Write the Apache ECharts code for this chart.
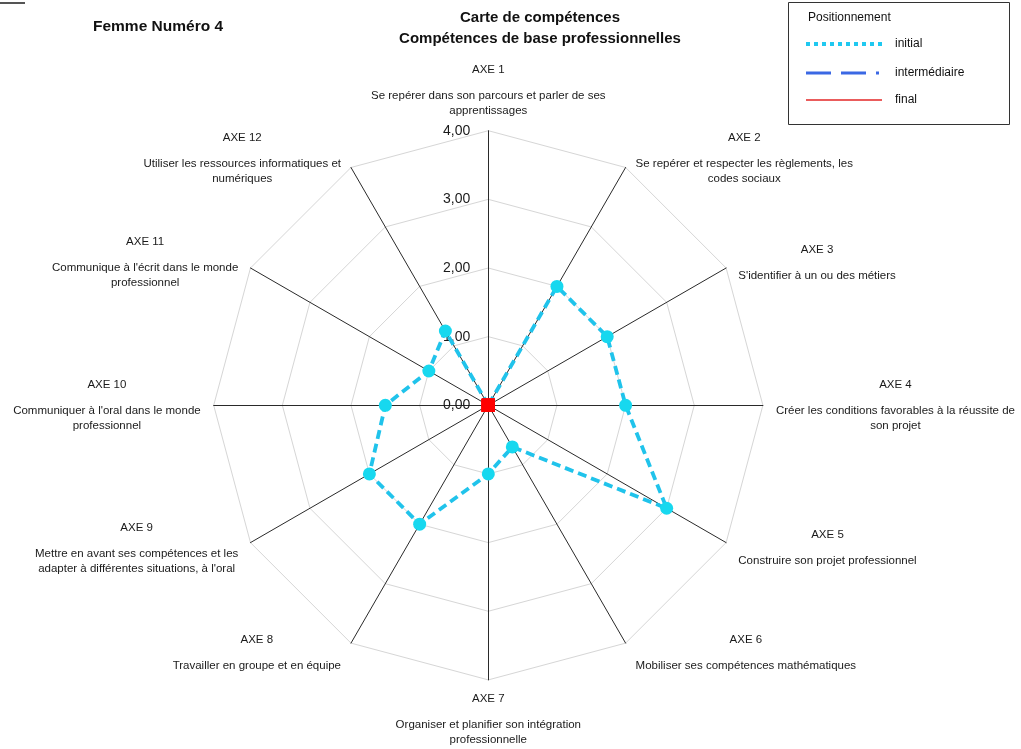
<!DOCTYPE html>
<html>
<head>
<meta charset="utf-8">
<script src="https://cdn.jsdelivr.net/npm/echarts@6/dist/echarts.min.js"></script>
<style>
html,body{margin:0;padding:0;background:#fff;}
#chart{width:1021px;height:749px;}
</style>
</head>
<body>
<div id="chart"></div>
<script>
// ---- data ----
const axes = ['AXE 1','AXE 2','AXE 3','AXE 4','AXE 5','AXE 6','AXE 7','AXE 8','AXE 9','AXE 10','AXE 11','AXE 12'];
const descriptions = [
  ['Se repérer dans son parcours et parler de ses','apprentissages'],
  ['Se repérer et respecter les règlements, les','codes sociaux'],
  ["S'identifier à un ou des métiers"],
  ['Créer les conditions favorables à la réussite de','son projet'],
  ['Construire son projet professionnel'],
  ['Mobiliser ses compétences mathématiques'],
  ['Organiser et planifier son intégration','professionnelle'],
  ['Travailler en groupe et en équipe'],
  ['Mettre en avant ses compétences et les',"adapter à différentes situations, à l'oral"],
  ["Communiquer à l'oral dans le monde",'professionnel'],
  ["Communique à l'écrit dans le monde",'professionnel'],
  ['Utiliser les ressources informatiques et','numériques']
];
const initialValues      = [0, 2, 2, 2, 3, 0.7, 1, 2, 2, 1.5, 1, 1.25];
const intermediateValues = [0, 0, 0, 0, 0, 0, 0, 0, 0, 0, 0, 0];
const finalValues        = [0, 0, 0, 0, 0, 0, 0, 0, 0, 0, 0, 0];
const tickLabels = ['0,00','1,00','2,00','3,00','4,00'];
const seriesNames = ['initial','intermédiaire','final'];
const legendTitle = 'Positionnement';
const titleLines = ['Carte de compétences','Compétences de base professionnelles'];
const subjectName = 'Femme Numéro 4';

// ---- layout ----
const cx = 488.3, cy = 405.3, R = 274.6, maxVal = 4;
const FONT = '"Liberation Sans", Arial, Helvetica, sans-serif';
const labelFontSize = 11.5;

// ECharts radar goes counter-clockwise; reorder so the chart reads clockwise
const n = axes.length;
const order = [0];
for (let i = n - 1; i >= 1; i--) order.push(i);
const reorder = arr => order.map(i => arr[i]);

const chart = echarts.init(document.getElementById('chart'), null, {renderer: 'canvas'});

// measure label widths
const mctx = document.createElement('canvas').getContext('2d');
mctx.font = labelFontSize + 'px ' + FONT;
function blockWidth(lines) {
  let w = 0;
  lines.forEach(l => { w = Math.max(w, mctx.measureText(l).width); });
  return w;
}

const graphics = [];
axes.forEach((ax, i) => {
  const th = i * 2 * Math.PI / n;
  const s = Math.sin(th), c = Math.cos(th);
  const ex = cx + R * s, ey = cy - R * c;
  const lines = descriptions[i];
  const txt = '{a|' + ax + '}\n{s| }\n' + lines.map(l => '{b|' + l + '}').join('\n');
  const rich = {
    a: {fontSize: labelFontSize, lineHeight: 15, fontFamily: FONT, fill: '#1a1a1a', align: 'center'},
    s: {fontSize: 4, lineHeight: 11},
    b: {fontSize: labelFontSize, lineHeight: 15, fontFamily: FONT, fill: '#1a1a1a', align: 'center'}
  };
  let x, y, va;
  if (Math.abs(s) < 0.01) {
    x = ex;
    if (c > 0) { y = ey - 12; va = 'bottom'; } else { y = ey + 11; va = 'top'; }
  } else {
    const w = blockWidth(lines.concat([ax]));
    const gap = 7 + 6 * Math.abs(s);
    x = ex + Math.sign(s) * (gap + w / 2);
    y = ey - 11 * c;
    va = 'middle';
  }
  graphics.push({
    type: 'text', x: x, y: y, silent: true,
    style: {text: txt, rich: rich, align: 'center', verticalAlign: va, fontFamily: FONT, fontSize: labelFontSize, fill: '#1a1a1a'}
  });
});

// titles
graphics.push({type: 'text', x: 540, y: 18, style: {text: titleLines[0], font: 'bold 15px ' + FONT, fill: '#111', align: 'center', verticalAlign: 'middle'}});
graphics.push({type: 'text', x: 540, y: 39, style: {text: titleLines[1], font: 'bold 15px ' + FONT, fill: '#111', align: 'center', verticalAlign: 'middle'}});
graphics.push({type: 'text', x: 93, y: 27, style: {text: subjectName, font: 'bold 15.5px ' + FONT, fill: '#111', align: 'left', verticalAlign: 'middle'}});
graphics.push({type: 'line', shape: {x1: 0, y1: 3, x2: 25, y2: 3}, style: {stroke: '#555', lineWidth: 2}});

// legend box
const legY = [44, 73, 100];
const legStyles = [
  {stroke: '#1fc8f0', lineWidth: 4, lineDash: [4, 4]},
  {stroke: '#3b68e4', lineWidth: 3, lineDash: [25, 10, 25, 10, 3, 10]},
  {stroke: '#e32626', lineWidth: 1.5}
];
graphics.push({type: 'rect', shape: {x: 788.5, y: 2.5, width: 221, height: 122}, style: {fill: '#fff', stroke: '#333', lineWidth: 1}});
graphics.push({type: 'text', x: 808, y: 18, style: {text: legendTitle, font: '12px ' + FONT, fill: '#111', align: 'left', verticalAlign: 'middle'}});
seriesNames.forEach((nm, k) => {
  graphics.push({type: 'line', shape: {x1: 806, y1: legY[k], x2: 882, y2: legY[k]}, style: legStyles[k]});
  graphics.push({type: 'text', x: 895, y: legY[k], style: {text: nm, font: '12px ' + FONT, fill: '#111', align: 'left', verticalAlign: 'middle'}});
});

const option = {
  animation: false,
  backgroundColor: '#fff',
  textStyle: {fontFamily: FONT},
  grid: {left: cx, top: cy - R, width: 1, height: R, containLabel: false},
  xAxis: {type: 'value', show: false},
  yAxis: {
    type: 'value', min: 0, max: maxVal, interval: 1,
    axisLine: {show: false}, axisTick: {show: false}, splitLine: {show: false},
    axisLabel: {formatter: v => tickLabels[Math.round(v)], fontSize: 14, color: '#1a1a1a', margin: 18, fontFamily: FONT}
  },
  radar: {
    center: [cx, cy], radius: R, startAngle: 90, splitNumber: 4, shape: 'polygon',
    indicator: reorder(axes).map(a => ({name: a, min: 0, max: maxVal})),
    axisName: {show: false},
    axisLine: {lineStyle: {color: '#2a2a2a', width: 1}},
    splitLine: {lineStyle: {color: '#d6d6d6', width: 1}},
    splitArea: {show: false},
    axisTick: {show: false},
    axisLabel: {show: false}
  },
  graphic: graphics,
  series: [{
    type: 'radar',
    data: [
      {name: seriesNames[0], value: reorder(initialValues), symbol: 'circle', symbolSize: 13,
       lineStyle: {color: '#20c3eb', width: 3.8, type: [9, 5]}, itemStyle: {color: '#17d8ef'}, z: 3},
      {name: seriesNames[1], value: reorder(intermediateValues), symbol: 'circle', symbolSize: 8,
       lineStyle: {color: '#3b68e4', width: 3, type: [25, 10, 25, 10, 3, 10]}, itemStyle: {color: '#3b68e4'}},
      {name: seriesNames[2], value: reorder(finalValues), symbol: 'rect', symbolSize: 13,
       lineStyle: {color: '#e32626', width: 1.5}, itemStyle: {color: '#ff0000'}}
    ]
  }]
};
chart.setOption(option);
</script>
</body>
</html>
